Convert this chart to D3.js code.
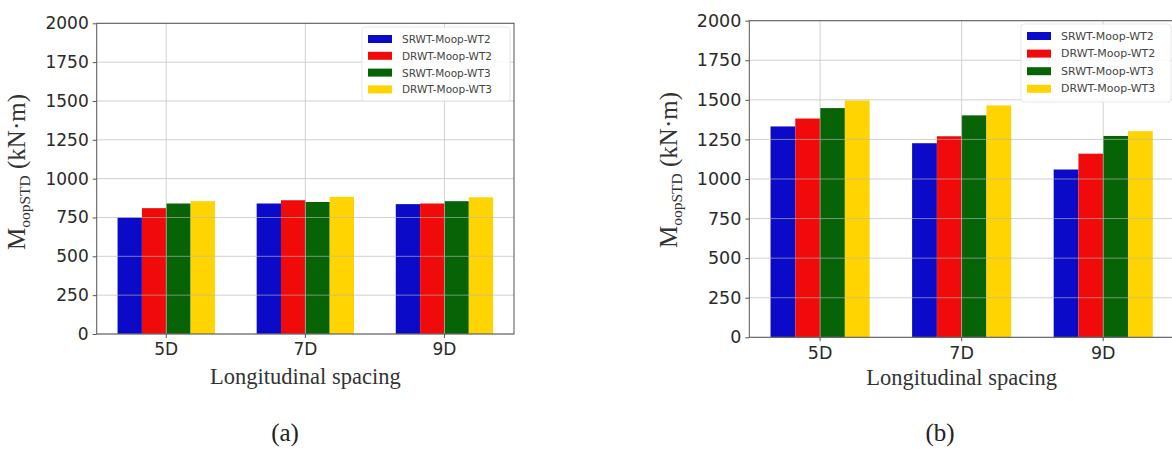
<!DOCTYPE html>
<html>
<head>
<meta charset="utf-8">
<script src="https://cdn.jsdelivr.net/npm/d3@7"></script>
<style>
  html, body { margin: 0; padding: 0; background: #ffffff; }
  svg { display: block; }
</style>
</head>
<body>
<svg id="chart" width="1172" height="450"></svg>
<script>
// Spacing categories and series names shared by both panels
const categories = ["5D", "7D", "9D"];
const seriesNames = ["SRWT-Moop-WT2", "DRWT-Moop-WT2", "SRWT-Moop-WT3", "DRWT-Moop-WT3"];
const seriesColors = ["#0a0ac8", "#f00a0a", "#066406", "#ffd400"];
const yTicks = [0, 250, 500, 750, 1000, 1250, 1500, 1750, 2000];

// Panel (a) values, kN·m
const aSrwtWt2 = [750, 840, 836];
const aDrwtWt2 = [810, 861, 840];
const aSrwtWt3 = [840, 850, 855];
const aDrwtWt3 = [855, 883, 880];

// Panel (b) values, kN·m
const bSrwtWt2 = [1332, 1226, 1060];
const bDrwtWt2 = [1382, 1270, 1160];
const bSrwtWt3 = [1448, 1402, 1272];
const bDrwtWt3 = [1496, 1465, 1302];

const svg = d3.select("#chart");

function drawPanel(cfg) {
  const { left, right, top, bottom, series, tickFont, caption } = cfg;
  const g = svg.append("g");

  // one band per spacing, bars occupy 0.7 of the band
  const x0 = d3.scaleBand().domain(categories).range([left, right]).padding(0);
  const bw = x0.bandwidth();
  const x1 = d3.scaleBand().domain(seriesNames).range([bw * 0.15, bw * 0.85]).padding(0);
  const y = d3.scaleLinear().domain([0, 2000]).range([bottom, top]);

  // bars
  seriesNames.forEach((name, si) => {
    g.append("g").selectAll("rect")
      .data(series[si])
      .join("rect")
      .attr("x", (d, i) => x0(categories[i]) + x1(name))
      .attr("y", d => y(d))
      .attr("width", x1.bandwidth())
      .attr("height", d => y(0) - y(d))
      .attr("fill", seriesColors[si]);
  });

  // grid drawn over the bars
  const grid = g.append("g").attr("stroke", "#b8b8b8").attr("stroke-width", 0.9).attr("opacity", 0.7);
  grid.selectAll("line.h").data(yTicks).join("line")
    .attr("x1", left).attr("x2", right)
    .attr("y1", d => y(d)).attr("y2", d => y(d));
  grid.selectAll("line.v").data(categories).join("line")
    .attr("x1", d => x0(d) + bw / 2).attr("x2", d => x0(d) + bw / 2)
    .attr("y1", top).attr("y2", bottom);

  // frame
  g.append("rect")
    .attr("x", left).attr("y", top)
    .attr("width", right - left).attr("height", bottom - top)
    .attr("fill", "none").attr("stroke", "#555").attr("stroke-width", 1);

  // y axis
  const yAxis = d3.axisLeft(y).tickValues(yTicks).tickSize(4).tickPadding(4).tickFormat(d3.format("d"));
  const ya = g.append("g").attr("transform", `translate(${left},0)`).call(yAxis);
  ya.select(".domain").remove();
  ya.selectAll("line").attr("stroke", "#555");
  ya.selectAll("text").attr("font-family", "DejaVu Sans").attr("font-size", tickFont).attr("fill", "#2a2a2a");

  // x axis
  const xAxis = d3.axisBottom(x0).tickSize(4).tickPadding(5);
  const xa = g.append("g").attr("transform", `translate(0,${bottom})`).call(xAxis);
  xa.select(".domain").remove();
  xa.selectAll("line").attr("stroke", "#555");
  xa.selectAll("text").attr("font-family", "DejaVu Sans").attr("font-size", tickFont).attr("fill", "#2a2a2a");

  // axis titles
  g.append("text")
    .attr("x", (left + right) / 2).attr("y", cfg.xLabelY)
    .attr("text-anchor", "middle")
    .attr("font-family", "Liberation Serif").attr("font-size", 22.5).attr("fill", "#333")
    .text("Longitudinal spacing");

  const yl = g.append("text")
    .attr("transform", `translate(${cfg.yLabelX},${cfg.yLabelY}) rotate(-90)`)
    .attr("text-anchor", "middle")
    .attr("font-family", "Liberation Serif").attr("font-size", 25).attr("fill", "#333");
  yl.append("tspan").text("M");
  yl.append("tspan").attr("font-size", 15.5).attr("dy", 5).text("oopSTD");
  yl.append("tspan").attr("dy", -5).text(" (kN·m)");

  // legend
  const lg = g.append("g");
  lg.append("rect")
    .attr("x", cfg.legend.x).attr("y", cfg.legend.y)
    .attr("width", cfg.legend.w).attr("height", cfg.legend.h)
    .attr("rx", 3).attr("fill", "#fff").attr("fill-opacity", 0.85)
    .attr("stroke", "#e2e2e2").attr("stroke-width", 0.8);
  seriesNames.forEach((name, si) => {
    const cy = cfg.legend.y + cfg.legend.row0 + si * cfg.legend.step;
    lg.append("rect")
      .attr("x", cfg.legend.x + 6).attr("y", cy - 4)
      .attr("width", 24).attr("height", 8)
      .attr("fill", seriesColors[si]);
    lg.append("text")
      .attr("x", cfg.legend.x + 40).attr("y", cy)
      .attr("dominant-baseline", "central")
      .attr("font-family", "DejaVu Sans").attr("font-size", cfg.legend.font).attr("fill", "#444")
      .text(name);
  });

  // caption
  svg.append("text")
    .attr("x", caption.x).attr("y", caption.y)
    .attr("text-anchor", "middle")
    .attr("font-family", "Liberation Serif").attr("font-size", 25).attr("fill", "#222")
    .text(caption.text);
}

drawPanel({
  left: 96.7, right: 514, top: 23.3, bottom: 334,
  series: [aSrwtWt2, aDrwtWt2, aSrwtWt3, aDrwtWt3],
  tickFont: 17,
  xLabelY: 384, yLabelX: 25, yLabelY: 172,
  legend: { x: 362, y: 27, w: 148, h: 74, row0: 12, step: 16.8, font: 10.5 },
  caption: { x: 285, y: 441, text: "(a)" }
});

drawPanel({
  left: 749.3, right: 1174, top: 20.7, bottom: 337.3,
  series: [bSrwtWt2, bDrwtWt2, bSrwtWt3, bDrwtWt3],
  tickFont: 17.5,
  xLabelY: 385, yLabelX: 677, yLabelY: 170,
  legend: { x: 1021, y: 24, w: 150, h: 78, row0: 12, step: 17.6, font: 11 },
  caption: { x: 940, y: 441, text: "(b)" }
});
</script>
</body>
</html>
